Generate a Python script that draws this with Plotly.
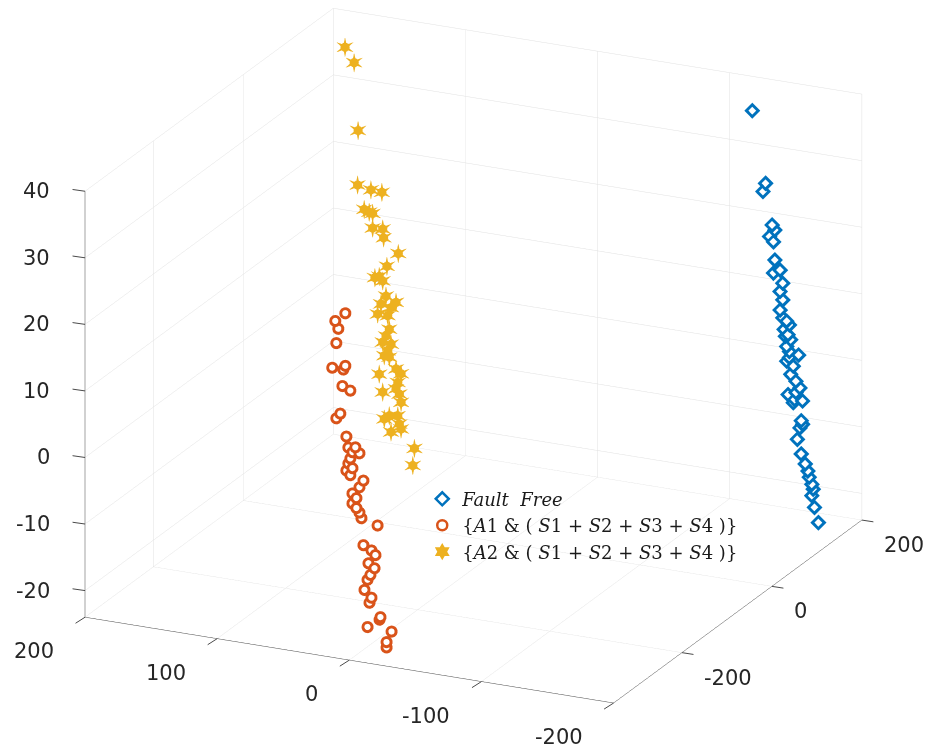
import plotly.graph_objects as go

# ---- data: three feature clusters in (x, y, z) ----
ff_y = [-134, -144, -142, -149, -151, -147, -150, -150, -155, -157,
        -155, -157, -155, -157, -160, -162, -158, -161, -163, -160,
        -162, -169, -160, -165, -163, -167, -170, -161, -166, -172,
        -165, -171, -172, -168, -171, -174, -176, -177, -179, -180,
        -179, -181, -184, -151, -159, -167, -162, -170]
ff_z = [37.9, 27.3, 26.0, 21.2, 20.5, 19.4, 18.7, 14.0, 14.6, 12.7,
        11.4, 10.2, 8.6, 7.5, 7.1, 6.6, 5.8, 5.1, 4.4, 3.3,
        2.6, 2.3, 1.1, 0.5, -0.8, -1.7, -2.6, -3.9, -4.5, -4.5,
        -5.0, -7.5, -8.0, -10.4, -12.5, -13.9, -14.9, -15.8, -16.8, -17.5,
        -18.5, -20.2, -22.4, 16.0, 4.8, -3.4, 1.7, -8.6]
ff_x = [150] * len(ff_y)

a1_y = [10.6, 18.2, 15.9, 17.4, 20.5, 10.6, 12.1, 12.8, 6.8, 14.4,
        17.4, 9.8, 8.3, 3.0, 5.2, -0.1, 6.8, 8.3, 5.2, 9.8,
        6.8, -3.1, -0.1, 5.2, 2.2, 5.2, 2.2, -0.1, -1.6, -13.8,
        -3.1, -9.2, -12.2, -6.9, -11.5, -8.4, -6.2, -3.9, -9.2, -7.7,
        -16.0, -6.2, -15.3, -24.4, -20.6, -20.6]
a1_z = [26.7, 25.3, 24.2, 22.0, 18.2, 18.8, 18.2, 15.7, 15.2, 11.5,
        10.7, 8.2, 6.6, 6.8, 6.0, 6.0, 5.0, 4.2, 3.6, 3.1,
        2.5, 2.0, 0.9, -0.2, -0.8, -1.7, -2.3, -2.9, -3.7, -4.4,
        -7.7, -8.3, -8.9, -10.3, -10.9, -12.0, -12.8, -14.4, -15.4, -16.2,
        -18.1, -19.9, -18.5, -20.0, -21.7, -22.5]
a1_x = [-330] * len(a1_y)

a2_y = [167.4, 160.5, 157.5, 157.9, 147.8, 139.5, 152.9, 149.1, 146.5, 146.5,
        138.9, 138.2, 127.1, 135.7, 141.5, 144.8, 138.9, 136.4, 128.8, 140.2,
        132.6, 142.7, 135.1, 133.9, 136.4, 138.9, 132.6, 135.1, 137.7, 133.9,
        141.5, 128.8, 125.0, 127.5, 128.8, 126.3, 138.9, 125.0, 133.9, 127.5,
        137.7, 126.3, 125.0, 132.6, 114.9, 116.1]
a2_z = [38.7, 36.6, 26.5, 18.3, 17.9, 17.8, 14.8, 14.5, 14.4, 12.2,
        12.3, 11.0, 9.0, 6.8, 5.1, 4.8, 4.5, 2.3, 1.6, 1.0,
        0.7, -0.6, -0.6, -2.6, -3.7, -4.7, -4.8, -5.9, -6.7, -6.8,
        -9.6, -8.4, -9.0, -10.4, -11.4, -12.1, -12.2, -13.3, -15.6, -15.4,
        -16.2, -16.6, -17.3, -18.0, -19.9, -22.5]
a2_x = [130] * len(a2_y)

NB = "\u00a0"
names = ["<i>Fault</i>" + NB + NB + "<i>Free</i>",
         "{<i>A</i>1" + NB + "&amp;" + NB + "(" + NB + "<i>S</i>1 + <i>S</i>2 + <i>S</i>3 + <i>S</i>4" + NB + ")}",
         "{<i>A</i>2" + NB + "&amp;" + NB + "(" + NB + "<i>S</i>1 + <i>S</i>2 + <i>S</i>3 + <i>S</i>4" + NB + ")}"]

x_ticks = [-200, 0, 200]
y_ticks = [-200, -100, 0, 100, 200]
z_ticks = [-20, -10, 0, 10, 20, 30, 40]
x_range = [-352, 200]
y_range = [-200, 200]
z_range = [-24, 40]

BLUE = "#0072BD"
ORANGE = "#D95319"
YELLOW = "#EDB120"
AXIS_COL = "#4a4a4a"
TICK_FONT = dict(family="DejaVu Sans", size=21, color="#262626")

fig = go.Figure()

# hollow markers: coloured glyph with a white core on top
fig.add_trace(go.Scatter3d(
    x=ff_x, y=ff_y, z=ff_z, mode="markers", legendgroup="ff", showlegend=False,
    marker=dict(symbol="diamond", size=5.3, color=BLUE, line=dict(width=0))))
fig.add_trace(go.Scatter3d(
    x=ff_x, y=ff_y, z=ff_z, mode="markers", legendgroup="ff", showlegend=False,
    hoverinfo="skip",
    marker=dict(symbol="diamond", size=2.6, color="white", line=dict(width=0))))
fig.add_trace(go.Scatter3d(
    x=a1_x, y=a1_y, z=a1_z, mode="markers", legendgroup="a1", showlegend=False,
    marker=dict(symbol="circle", size=7.0, color=ORANGE, line=dict(width=0))))
fig.add_trace(go.Scatter3d(
    x=a1_x, y=a1_y, z=a1_z, mode="markers", legendgroup="a1", showlegend=False,
    hoverinfo="skip",
    marker=dict(symbol="circle", size=3.6, color="white", line=dict(width=0))))
# filled six-pointed stars: star glyph plus a solid core
fig.add_trace(go.Scatter3d(
    x=a2_x, y=a2_y, z=a2_z, mode="text", legendgroup="a2", showlegend=False,
    text=["\u2736"] * len(a2_y), textposition="middle center",
    textfont=dict(color=YELLOW, size=27, family="DejaVu Sans")))
fig.add_trace(go.Scatter3d(
    x=a2_x, y=a2_y, z=a2_z, mode="text", legendgroup="a2", showlegend=False,
    hoverinfo="skip",
    text=["\u25CF"] * len(a2_y), textposition="middle center",
    textfont=dict(color=YELLOW, size=12, family="DejaVu Sans")))

# legend entries (2-D symbols, linked to the 3-D traces by group)
for nm, grp, sym, col in [(names[0], "ff", "diamond-open", BLUE),
                          (names[1], "a1", "circle-open", ORANGE),
                          (names[2], "a2", "hexagram", YELLOW)]:
    fig.add_trace(go.Scatter(
        x=[None], y=[None], mode="markers", name=nm, legendgroup=grp,
        marker=dict(symbol=sym, size=10 if sym != "hexagram" else 13,
                    color=col, line=dict(width=2.5 if sym != "hexagram" else 0, color=col))))

axis_common = dict(
    showbackground=False, gridcolor="#e1e1e1", gridwidth=1,
    showline=True, linecolor=AXIS_COL, linewidth=1,
    ticks="", showticklabels=False,
    zeroline=False, showspikes=False, title=dict(text=""),
)

# tick marks and tick labels as scene annotations on the three outer edges
notes = []


def tick(x, y, z, label, ax, ay, **label_kw):
    notes.append(dict(x=x, y=y, z=z, text="", showarrow=True, arrowhead=0,
                      arrowwidth=1, arrowcolor=AXIS_COL, ax=ax, ay=ay))
    notes.append(dict(x=x, y=y, z=z, text=label, showarrow=False,
                      yanchor="middle", font=TICK_FONT, **label_kw))


for v in z_ticks:
    tick(x_range[0], y_range[1], v, str(v), -14, -2, xanchor="right", xshift=-33)
for v in y_ticks:
    tick(x_range[0], v, z_range[0], str(v), -11, 7, xanchor="right", xshift=-29, yshift=-34)
for v in x_ticks:
    tick(v, y_range[0], z_range[0], str(v), 13, 2, xanchor="left", xshift=20, yshift=-25)

r = 2.0
ex, ey, ez = -0.8626, -0.3910, 0.321
fig.update_layout(
    width=928, height=751,
    margin=dict(l=0, r=0, t=0, b=0),
    paper_bgcolor="white", plot_bgcolor="rgba(0,0,0,0)",
    xaxis=dict(visible=False), yaxis=dict(visible=False),
    scene=dict(
        domain=dict(x=[0, 1], y=[0, 1]),
        xaxis=dict(range=x_range, tickvals=x_ticks, **axis_common),
        yaxis=dict(range=y_range, tickvals=y_ticks, **axis_common),
        zaxis=dict(range=z_range, tickvals=z_ticks, **axis_common),
        aspectmode="manual", aspectratio=dict(x=1.556, y=1.555, z=1.209),
        camera=dict(eye=dict(x=ex * r, y=ey * r, z=ez * r),
                    up=dict(x=0, y=0, z=1),
                    center=dict(x=-0.0107, y=0.0228, z=-0.0563),
                    projection=dict(type="orthographic")),
        annotations=notes,
    ),
    legend=dict(x=0.455, y=0.36, xanchor="left", yanchor="top",
                bgcolor="rgba(0,0,0,0)", tracegroupgap=0,
                font=dict(family="DejaVu Serif", size=18, color="#1a1a1a")),
    showlegend=True,
)

fig.write_html("out.html")
